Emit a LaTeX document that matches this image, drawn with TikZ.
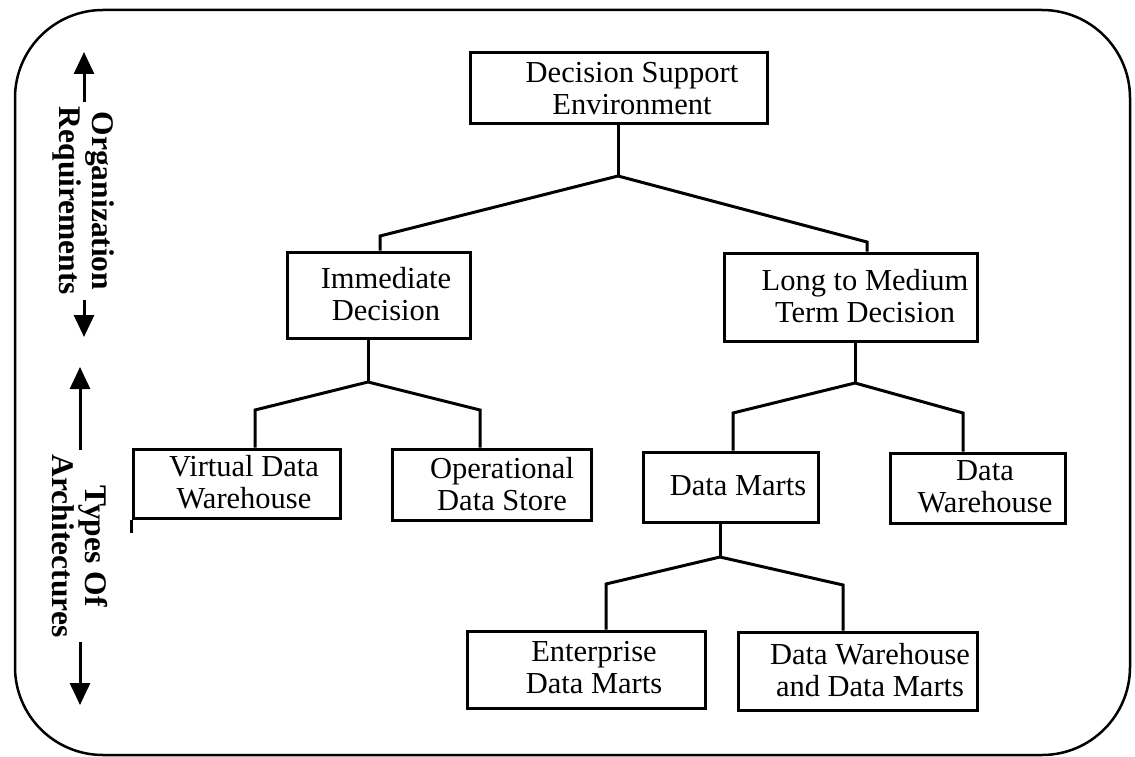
\documentclass[tikz,border=0pt]{standalone}
\usepackage{fontspec}
\setmainfont{Liberation Serif}
\usetikzlibrary{arrows.meta}
\begin{document}
\begin{tikzpicture}[x=1pt,y=-1pt,
  box/.style={draw, line width=3pt, inner sep=0pt},
  txt/.style={align=center, font=\fontsize{30.5}{32}\selectfont, inner sep=0pt},
  side/.style={align=center, font=\fontsize{31.5}{33}\selectfont\bfseries, rotate=-90, inner xsep=5pt, inner ysep=0pt},
  link/.style={line width=3pt, line join=miter},
  arr/.style={line width=3pt, -{Triangle[width=20pt,length=22pt]}},
  frame/.style={line width=2.5pt, rounded corners=88pt}]
\useasboundingbox (0,0) rectangle (1135,757);
% outer rounded frame
\draw[frame] (15,10) rectangle (1130,755);

% boxes
\node[box, minimum width=297pt, minimum height=71pt] (dse) at (618.5,88.5) {};
\node[box, minimum width=183pt, minimum height=86pt] (imm) at (378.5,295) {};
\node[box, minimum width=253pt, minimum height=88pt] (ltm) at (850.5,297) {};
\node[box, minimum width=207pt, minimum height=69pt] (vdw) at (236.5,483.5) {};
\node[box, minimum width=199pt, minimum height=71pt] (ods) at (491.5,484.5) {};
\node[box, minimum width=175pt, minimum height=70pt] (dm) at (730.5,487) {};
\node[box, minimum width=175pt, minimum height=70pt] (dw) at (977.5,488) {};
\node[box, minimum width=238pt, minimum height=77pt] (edm) at (586,669.5) {};
\node[box, minimum width=239pt, minimum height=78pt] (dwdm) at (857.5,671) {};

% box texts
\node[txt] (dse-t) at (632,89) {Decision Support\\Environment};
\node[txt] (imm-t) at (386,294) {Immediate\\Decision};
\node[txt] (ltm-t) at (865,296) {Long to Medium\\Term Decision};
\node[txt] (vdw-t) at (244,482) {Virtual Data\\Warehouse};
\node[txt] (ods-t) at (502,484) {Operational\\Data Store};
\node[txt] (dm-t) at (738,486) {Data Marts};
\node[txt] (dw-t) at (985,487) {Data\\Warehouse};
\node[txt] (edm-t) at (594,668) {Enterprise\\Data Marts};
\node[txt] (dwdm-t) at (870,670) {Data Warehouse\\and Data Marts};

% junction and branch points
\coordinate (j0) at (618,176);
\coordinate (l1) at (380,236);
\coordinate (r1) at (867,242);
\coordinate (j1) at (368,382);
\coordinate (l2) at (255,410);
\coordinate (r2) at (480,410);
\coordinate (j2) at (855,383);
\coordinate (l3) at (733,413);
\coordinate (r3) at (963,413);
\coordinate (j3) at (720,557);
\coordinate (l4) at (606,584);
\coordinate (r4) at (843,585);

% tree connectors
\draw[link] (dse.south -| j0) -- (j0);
\draw[link] (l1 |- imm.north) -- (l1) -- (j0) -- (r1) -- (r1 |- ltm.north);
\draw[link] (imm.south -| j1) -- (j1);
\draw[link] (l2 |- vdw.north) -- (l2) -- (j1) -- (r2) -- (r2 |- ods.north);
\draw[link] (ltm.south -| j2) -- (j2);
\draw[link] (l3 |- dm.north) -- (l3) -- (j2) -- (r3) -- (r3 |- dw.north);
\draw[link] (dm.south -| j3) -- (j3);
\draw[link] (l4 |- edm.north) -- (l4) -- (j3) -- (r4) -- (r4 |- dwdm.north);
% short overhang of the left edge below the first leaf box
\draw[line width=3pt] (vdw.south west) -- ++(0,13);

% side labels with arrows
\node[side] (org) at (84,201) {Organization\\Requirements};
\node[side] (typ) at (80,546) {Types Of\\Architectures};
\coordinate (t1) at (84,52);
\coordinate (b1) at (84,337);
\coordinate (t2) at (80,367);
\coordinate (b2) at (80,705);
\draw[arr] (org.west) -- (t1);
\draw[arr] (org.east) -- (b1);
\draw[arr] (typ.west) -- (t2);
\draw[arr] (typ.east) -- (b2);
\end{tikzpicture}
\end{document}
